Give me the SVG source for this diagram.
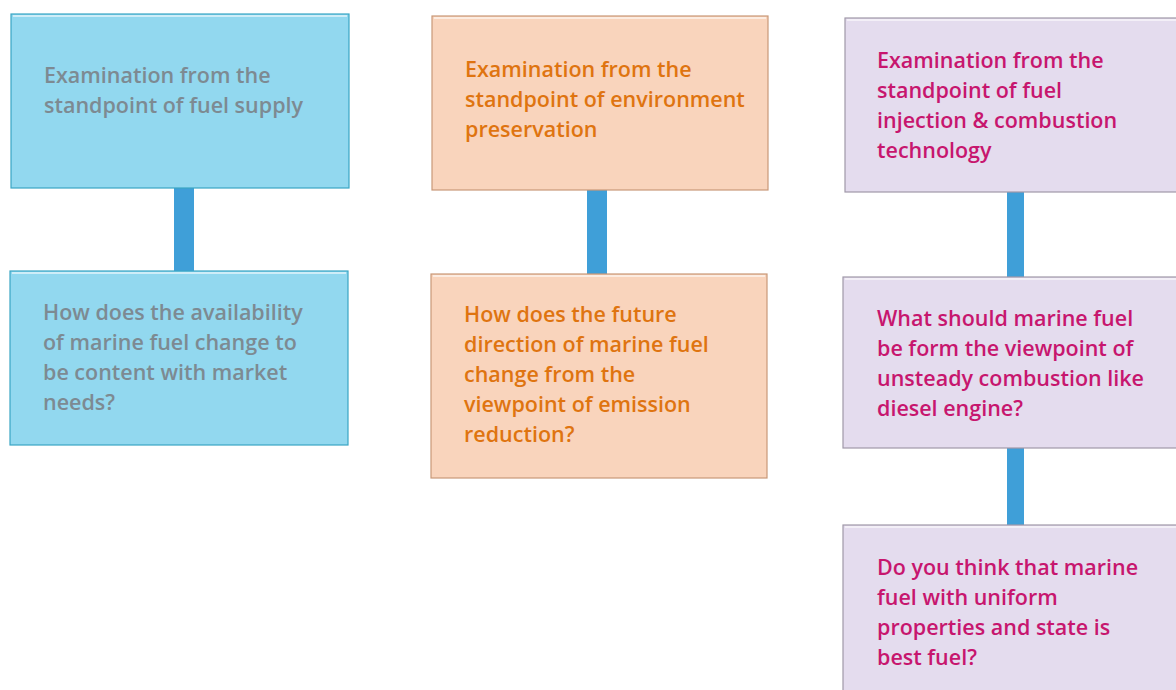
<svg xmlns="http://www.w3.org/2000/svg" width="1176" height="690" viewBox="0 0 1176 690">
<defs>
<style>
.t{font-family:"Open Sans","Liberation Sans",sans-serif;font-size:21.5px;font-weight:600}
.tb{fill:#7d8a92}
.to{fill:#df7410}
.tp{fill:#c7166e}
.bb{fill:#92d8ef;stroke:#3aa6c4;stroke-width:1.2}
.bo{fill:#f9d4bc;stroke:#c89878;stroke-width:1.2}
.bp{fill:#e4dcee;stroke:#a098a8;stroke-width:1.2}
.hl{fill:none;stroke:#ffffff;stroke-opacity:0.55;stroke-width:2}
.con{fill:#3f9fd8}
</style>
</defs>
<g id="connectors">
<rect class="con" x="174" y="187" width="20" height="84"/>
<rect class="con" x="587" y="189" width="20" height="86"/>
<rect class="con" x="1007" y="191" width="17" height="87"/>
<rect class="con" x="1007" y="448" width="17" height="78"/>
</g>
<g id="n1">
<rect class="bb" x="11" y="14" width="338" height="174"/>
<path class="hl" d="M13 16 H347"/>
<text class="t tb"><tspan x="44" y="83">Examination from the</tspan><tspan x="44" y="113">standpoint of fuel supply</tspan></text>
</g>
<g id="n2">
<rect class="bb" x="10" y="271" width="338" height="174"/>
<path class="hl" d="M12 273 H346"/>
<text class="t tb"><tspan x="43" y="320">How does the availability</tspan><tspan x="43" y="350">of marine fuel change to</tspan><tspan x="43" y="380">be content with market</tspan><tspan x="43" y="410">needs?</tspan></text>
</g>
<g id="n3">
<rect class="bo" x="432" y="16" width="336" height="174"/>
<path class="hl" d="M434 18 H766"/>
<text class="t to"><tspan x="465" y="77">Examination from the</tspan><tspan x="465" y="107">standpoint of environment</tspan><tspan x="465" y="137">preservation</tspan></text>
</g>
<g id="n4">
<rect class="bo" x="431" y="274" width="336" height="204"/>
<path class="hl" d="M433 276 H765"/>
<text class="t to"><tspan x="464" y="322">How does the future</tspan><tspan x="464" y="352">direction of marine fuel</tspan><tspan x="464" y="382">change from the</tspan><tspan x="464" y="412">viewpoint of emission</tspan><tspan x="464" y="442">reduction?</tspan></text>
</g>
<g id="n5">
<rect class="bp" x="845" y="18" width="340" height="174"/>
<path class="hl" d="M847 20 H1176"/>
<text class="t tp"><tspan x="877" y="68">Examination from the</tspan><tspan x="877" y="98">standpoint of fuel</tspan><tspan x="877" y="128">injection &amp; combustion</tspan><tspan x="877" y="158">technology</tspan></text>
</g>
<g id="n6">
<rect class="bp" x="843" y="277" width="340" height="171"/>
<path class="hl" d="M845 279 H1176"/>
<text class="t tp"><tspan x="877" y="326">What should marine fuel</tspan><tspan x="877" y="356">be form the viewpoint of</tspan><tspan x="877" y="386">unsteady combustion like</tspan><tspan x="877" y="416">diesel engine?</tspan></text>
</g>
<g id="n7">
<rect class="bp" x="843" y="525" width="340" height="180"/>
<path class="hl" d="M845 527 H1176"/>
<text class="t tp"><tspan x="877" y="575">Do you think that marine</tspan><tspan x="877" y="605">fuel with uniform</tspan><tspan x="877" y="635">properties and state is</tspan><tspan x="877" y="665">best fuel?</tspan></text>
</g>
</svg>
